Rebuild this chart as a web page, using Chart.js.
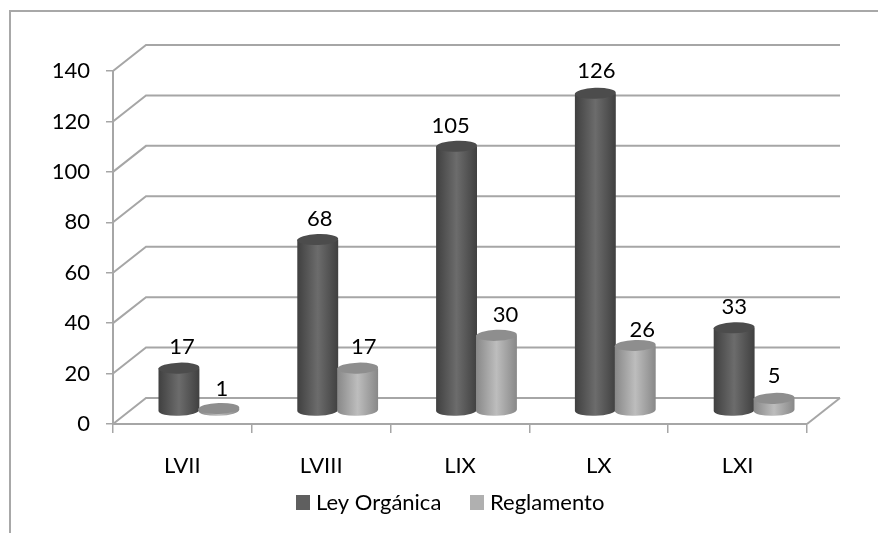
<!DOCTYPE html>
<html>
<head>
<meta charset="utf-8">
<script src="https://cdn.jsdelivr.net/npm/chart.js@4"></script>
<style>
  html, body { margin: 0; padding: 0; background: #fff; overflow: hidden; }
  #wrap { position: absolute; left: 0; top: 0; width: 878px; height: 533px; overflow: hidden; }
  #frame { position: absolute; left: 9px; top: 10px; width: 880px; height: 540px; border: 2px solid #a8a8a8; box-sizing: border-box; }
  canvas { position: absolute; left: 0; top: 0; filter: blur(0.45px); }
</style>
</head>
<body>
<div id="wrap">
  <div id="frame"></div>
  <canvas id="chart" width="878" height="533"></canvas>
</div>
<script>
const categories = ["LVII", "LVIII", "LIX", "LX", "LXI"];
const leyOrganica = [17, 68, 105, 126, 33];
const reglamento = [1, 17, 30, 26, 5];

// depth of the fake 3d floor
const depthX = 33;
const depthY = -26;
const FONT = "Lato, Carlito, sans-serif";
const FONT_SIZE = 22;

// shade stops for a cylinder body, left to right
const shades = {
  dark: { side: "#404040", mid: "#6c6c6c", top: "#4c4c4c", legend: "#5f5f5f" },
  light: { side: "#888888", mid: "#bdbdbd", top: "#8e8e8e", legend: "#b0b0b0" }
};

// hand placed nudges for the value labels, Excel moved them around
const labelNudge = [
  [[3, -21], [2, -21], [-6, -20], [1, -22], [0, -21]],
  [[3, -20], [6, -21], [9, -20], [7, -16], [0, -22]]
];

function drawCylinder(ctx, cx, top, bottom, w, shade) {
  const rx = w / 2;
  const ry = 5.5;
  const tilt = -0.035;
  const body = ctx.createLinearGradient(cx - rx, 0, cx + rx, 0);
  body.addColorStop(0, shade.side);
  body.addColorStop(0.5, shade.mid);
  body.addColorStop(1, shade.side);
  ctx.fillStyle = body;
  ctx.beginPath();
  ctx.ellipse(cx, bottom, rx, ry, tilt, 0, Math.PI);
  ctx.lineTo(cx - rx, top);
  ctx.lineTo(cx + rx, top);
  ctx.closePath();
  ctx.fill();
  ctx.fillStyle = shade.top;
  ctx.beginPath();
  ctx.ellipse(cx, top, rx, ry, tilt, 0, Math.PI * 2);
  ctx.fill();
}

const wall3d = {
  id: "wall3d",
  beforeDatasetsDraw(chart) {
    const { ctx, chartArea, scales } = chart;
    ctx.save();
    ctx.strokeStyle = "#a6a6a6";
    ctx.lineWidth = 2;
    scales.y.ticks.forEach(t => {
      const y = scales.y.getPixelForValue(t.value);
      ctx.beginPath();
      ctx.moveTo(chartArea.left, y);
      ctx.lineTo(chartArea.left + depthX, y + depthY);
      ctx.lineTo(chartArea.right + depthX, y + depthY);
      ctx.stroke();
    });
    // right edge of the floor
    ctx.beginPath();
    ctx.moveTo(chartArea.right, chartArea.bottom);
    ctx.lineTo(chartArea.right + depthX, chartArea.bottom + depthY);
    ctx.stroke();

    // cylinders instead of the normal bars
    chart.data.datasets.forEach((ds, i) => {
      const meta = chart.getDatasetMeta(i);
      meta.data.forEach(bar => {
        const p = bar.getProps(["x", "y", "base", "width"], true);
        drawCylinder(ctx, p.x + depthX / 2, p.y + depthY / 2, p.base + depthY / 2, p.width + 1, ds.shade);
      });
    });

    // value labels
    ctx.fillStyle = "#000";
    ctx.font = FONT_SIZE + "px " + FONT;
    ctx.textAlign = "center";
    ctx.textBaseline = "middle";
    chart.data.datasets.forEach((ds, i) => {
      const meta = chart.getDatasetMeta(i);
      meta.data.forEach((bar, j) => {
        const p = bar.getProps(["x", "y"], true);
        const n = labelNudge[i][j];
        ctx.fillText(ds.data[j], p.x + depthX / 2 + n[0], p.y + depthY / 2 + n[1]);
      });
    });
    ctx.restore();
    return false;
  }
};

// the built in legend leaves too wide a gap after the swatch
const tightLegend = {
  id: "tightLegend",
  afterDraw(chart) {
    const { ctx } = chart;
    const starts = [296, 470];
    ctx.save();
    ctx.font = FONT_SIZE + "px " + FONT;
    ctx.textAlign = "left";
    ctx.textBaseline = "middle";
    chart.data.datasets.forEach((ds, i) => {
      ctx.fillStyle = ds.backgroundColor;
      ctx.fillRect(starts[i], 495, 14, 15);
      ctx.fillStyle = "#000";
      ctx.fillText(ds.label, starts[i] + 20, 503);
    });
    ctx.restore();
  }
};

new Chart(document.getElementById("chart"), {
  type: "bar",
  data: {
    labels: categories,
    datasets: [
      { label: "Ley Orgánica", data: leyOrganica, backgroundColor: shades.dark.legend, shade: shades.dark },
      { label: "Reglamento", data: reglamento, backgroundColor: shades.light.legend, shade: shades.light }
    ]
  },
  options: {
    responsive: false,
    animation: false,
    devicePixelRatio: 1,
    barPercentage: 1,
    categoryPercentage: 0.575,
    layout: { padding: { top: 71, right: 71, bottom: 0, left: 0 } },
    plugins: {
      title: { display: false },
      tooltip: { enabled: false },
      legend: { display: false }
    },
    scales: {
      x: {
        afterFit(scale) { scale.height = 109; },
        grid: { drawOnChartArea: false, color: "#a6a6a6", lineWidth: 1.5, tickLength: 9, offset: true },
        border: { color: "#a6a6a6", width: 2 },
        ticks: { color: "#000", font: { family: FONT, size: FONT_SIZE }, padding: 20 }
      },
      y: {
        min: 0,
        max: 140,
        afterFit(scale) { scale.width = 113; },
        grid: { drawOnChartArea: false, color: "#a6a6a6", lineWidth: 1.5, tickLength: 7 },
        border: { color: "#a6a6a6", width: 2 },
        ticks: { stepSize: 20, color: "#000", font: { family: FONT, size: FONT_SIZE }, padding: 16 }
      }
    }
  },
  plugins: [wall3d, tightLegend]
});
</script>
</body>
</html>
